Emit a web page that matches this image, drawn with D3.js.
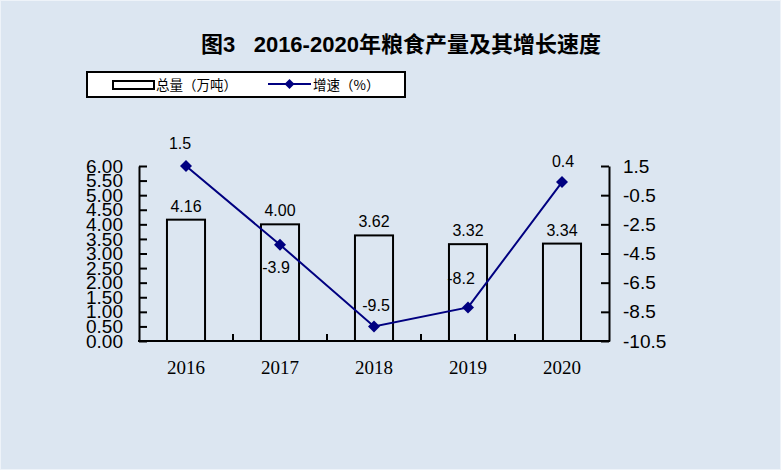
<!DOCTYPE html>
<html>
<head>
<meta charset="utf-8">
<script src="https://cdn.jsdelivr.net/npm/d3@7/dist/d3.min.js"></script>
<style>
	body { margin: 0; background: #dce6f1; }
	svg { display: block; }
</style>
</head>
<body>
<script>
var years = ['2016', '2017', '2018', '2019', '2020'];
var totals = [4.16, 4.00, 3.62, 3.32, 3.34];
var growth = [1.5, -3.9, -9.5, -8.2, 0.4];
var leftTicks = [0, 0.5, 1, 1.5, 2, 2.5, 3, 3.5, 4, 4.5, 5, 5.5, 6];
var rightTicks = [1.5, -0.5, -2.5, -4.5, -6.5, -8.5, -10.5];

var width = 781, height = 470;
var plotLeft = 139, plotRight = 609, plotTop = 166, plotBottom = 341;
var navy = '#000080';

// where each growth label sits relative to its marker
var growthLabelOffset = [[-6, -17], [-4, 28], [2, -15], [-7, -23], [1, -15]];

var svg = d3.select('body')
	.append('svg')
	.attr('width', width)
	.attr('height', height);

svg.append('rect')
	.attr('x', 0.5).attr('y', 0.5)
	.attr('width', width - 1).attr('height', height - 1)
	.attr('fill', '#dce6f1')
	.attr('stroke', '#eef3f9');

// title
svg.append('text')
	.attr('x', 401)
	.attr('y', 52)
	.attr('text-anchor', 'middle')
	.attr('font-family', '"Liberation Sans", "Noto Sans CJK SC", sans-serif')
	.attr('font-weight', 'bold')
	.attr('font-size', 22)
	.style('white-space', 'pre')
	.text('图3   2016-2020年粮食产量及其增长速度');

// legend
var legend = svg.append('g');
legend.append('rect')
	.attr('x', 87).attr('y', 72)
	.attr('width', 318).attr('height', 25)
	.attr('fill', '#fff')
	.attr('stroke', '#000')
	.attr('stroke-width', 2);
legend.append('rect')
	.attr('x', 113).attr('y', 81)
	.attr('width', 41).attr('height', 8)
	.attr('fill', '#fff')
	.attr('stroke', '#000')
	.attr('stroke-width', 2);
legend.append('text')
	.attr('x', 156).attr('y', 89.5)
	.attr('font-family', '"Noto Sans CJK SC", sans-serif')
	.attr('font-size', 13.5)
	.text('总量（万吨）');
legend.append('line')
	.attr('x1', 268).attr('x2', 311)
	.attr('y1', 84).attr('y2', 84)
	.attr('stroke', navy)
	.attr('stroke-width', 2);
legend.append('path')
	.attr('d', d3.symbol(d3.symbolSquare, 50)())
	.attr('transform', 'translate(289.5,84) rotate(45)')
	.attr('fill', navy);
legend.append('text')
	.attr('x', 313).attr('y', 89.5)
	.attr('font-family', '"Noto Sans CJK SC", sans-serif')
	.attr('font-size', 13.5)
	.text('增速（%）');

// scales
var x = d3.scaleBand()
	.domain(years)
	.range([plotLeft, plotRight])
	.paddingInner(0.595)
	.paddingOuter(0.2975);

var yL = d3.scaleLinear().domain([0, 6]).range([plotBottom, plotTop]);
var yR = d3.scaleLinear().domain([-10.5, 1.5]).range([plotBottom, plotTop]);

// bars
svg.selectAll('rect.bar')
	.data(totals)
	.enter()
	.append('rect')
	.attr('class', 'bar')
	.attr('x', function(d, i) { return x(years[i]); })
	.attr('y', function(d) { return yL(d); })
	.attr('width', x.bandwidth())
	.attr('height', function(d) { return plotBottom - yL(d); })
	.attr('fill', '#dce6f1')
	.attr('stroke', '#000')
	.attr('stroke-width', 2);

svg.selectAll('text.barlabel')
	.data(totals)
	.enter()
	.append('text')
	.attr('class', 'barlabel')
	.attr('x', function(d, i) { return x(years[i]) + x.bandwidth() / 2; })
	.attr('y', function(d) { return yL(d) - 8; })
	.attr('text-anchor', 'middle')
	.attr('font-family', '"Liberation Sans", Arial, sans-serif')
	.attr('font-size', 16)
	.text(function(d) { return d.toFixed(2); });

// left axis
var axisL = svg.append('g')
	.attr('transform', 'translate(' + plotLeft + ',0)')
	.call(d3.axisLeft(yL)
		.tickValues(leftTicks)
		.tickFormat(function(d) { return d.toFixed(2); })
		.tickSizeInner(-8)
		.tickSizeOuter(0)
		.tickPadding(16));

// right axis
var axisR = svg.append('g')
	.attr('transform', 'translate(' + plotRight + ',0)')
	.call(d3.axisRight(yR)
		.tickValues(rightTicks)
		.tickFormat(function(d) { return d.toFixed(1); })
		.tickSizeInner(-8)
		.tickSizeOuter(0)
		.tickPadding(14));

[axisL, axisR].forEach(function(a) {
	a.select('.domain').attr('stroke', '#000').attr('stroke-width', 2);
	a.selectAll('.tick line').attr('stroke', '#000').attr('stroke-width', 2);
	a.selectAll('.tick text')
		.attr('fill', '#000')
		.attr('font-size', 19)
		.attr('font-family', '"Liberation Sans", Arial, sans-serif');
});

// x axis
svg.append('line')
	.attr('x1', plotLeft - 1).attr('x2', plotRight + 1)
	.attr('y1', plotBottom).attr('y2', plotBottom)
	.attr('stroke', '#000')
	.attr('stroke-width', 2);

svg.selectAll('line.sep')
	.data(years.slice(1))
	.enter()
	.append('line')
	.attr('class', 'sep')
	.attr('x1', function(d) { return x(d) - x.step() * x.paddingInner() / 2; })
	.attr('x2', function(d) { return x(d) - x.step() * x.paddingInner() / 2; })
	.attr('y1', plotBottom)
	.attr('y2', plotBottom - 7)
	.attr('stroke', '#000')
	.attr('stroke-width', 2);

svg.selectAll('text.year')
	.data(years)
	.enter()
	.append('text')
	.attr('class', 'year')
	.attr('x', function(d) { return x(d) + x.bandwidth() / 2; })
	.attr('y', 374)
	.attr('text-anchor', 'middle')
	.attr('font-family', '"Liberation Serif", "Times New Roman", serif')
	.attr('font-size', 19)
	.text(function(d) { return d; });

// growth line
var line = d3.line()
	.x(function(d, i) { return x(years[i]) + x.bandwidth() / 2; })
	.y(function(d) { return yR(d); });

svg.append('path')
	.datum(growth)
	.attr('d', line)
	.attr('fill', 'none')
	.attr('stroke', navy)
	.attr('stroke-width', 2);

svg.selectAll('path.marker')
	.data(growth)
	.enter()
	.append('path')
	.attr('class', 'marker')
	.attr('d', d3.symbol(d3.symbolSquare, 72)())
	.attr('transform', function(d, i) {
		return 'translate(' + (x(years[i]) + x.bandwidth() / 2) + ',' + yR(d) + ') rotate(45)';
	})
	.attr('fill', navy);

svg.selectAll('text.growthlabel')
	.data(growth)
	.enter()
	.append('text')
	.attr('class', 'growthlabel')
	.attr('x', function(d, i) { return x(years[i]) + x.bandwidth() / 2 + growthLabelOffset[i][0]; })
	.attr('y', function(d, i) { return yR(d) + growthLabelOffset[i][1]; })
	.attr('text-anchor', 'middle')
	.attr('font-family', '"Liberation Sans", Arial, sans-serif')
	.attr('font-size', 16)
	.text(function(d) { return d.toFixed(1); });
</script>
</body>
</html>
